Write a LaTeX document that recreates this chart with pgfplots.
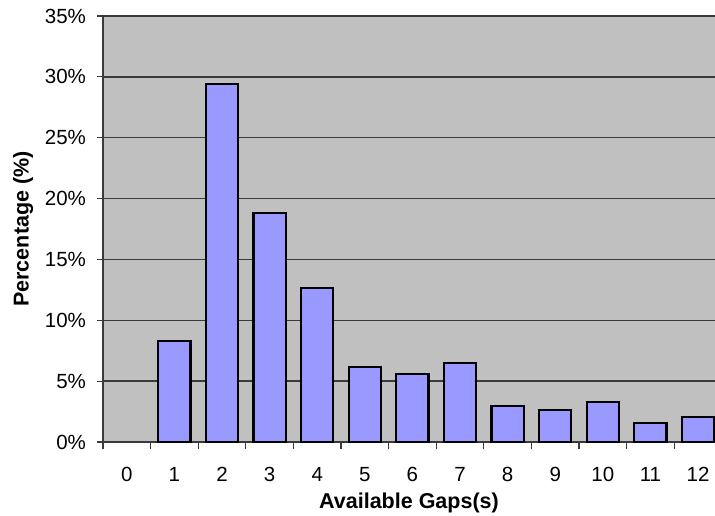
\documentclass[border=0pt]{standalone}
\usepackage{pgfplots}
\pgfplotsset{compat=1.18}
\usepackage{fontspec}
\setmainfont{Liberation Sans}
\definecolor{plotbg}{HTML}{C0C0C0}
\definecolor{barfill}{HTML}{9999FF}
\definecolor{gridc}{HTML}{3A3A3A}
\begin{document}
\fontsize{20.5bp}{24bp}\selectfont
\begin{tikzpicture}
\begin{axis}[
  scale only axis,
  width=612bp, height=426bp,
  xmin=-0.5, xmax=12.357,
  ymin=0, ymax=35,
  axis x line*=bottom,
  axis y line*=left,
  axis line style={draw=gridc, line width=1.2pt},
  axis background/.style={fill=plotbg},
  ybar, bar width=0.68,
  xtick={0,...,12},
  major x tick style={draw=none},
  minor xtick={-0.5,0.5,...,11.5},
  minor x tick style={draw=gridc, line width=1.2pt},
  minor tick length=7bp,
  tick align=outside,
  ytick={0,5,...,35},
  major y tick style={draw=gridc, line width=1.2pt},
  major tick length=6bp,
  ymajorgrids,
  major grid style={draw=gridc, line width=1.4pt},
  yticklabel={\pgfmathprintnumber{\tick}\%},
  /pgf/number format/assume math mode=true,
  tick label style={font=\fontsize{20.5bp}{24bp}\selectfont},
  xticklabel style={yshift=-12bp},
  yticklabel style={xshift=-4bp},
  xlabel={\textbf{Available Gaps(s)}},
  ylabel={\textbf{Percentage (\%)}},
  label style={font=\fontsize{21.5bp}{25bp}\selectfont},
  xlabel style={yshift=2bp},
  ylabel style={yshift=-2bp},
  clip=true,
]
\addplot[fill=barfill, draw=black, line width=2.2pt] coordinates {
(1,8.27) (2,29.44) (3,18.8) (4,12.66) (5,6.19) (6,5.59) (7,6.46)
(8,2.93) (9,2.63) (10,3.29) (11,1.56) (12,2.06)
};
\end{axis}
\pgfresetboundingbox
\path[use as bounding box] ([xshift=-103bp,yshift=-74bp]current axis.south west) rectangle ([yshift=16bp]current axis.north east);
\end{tikzpicture}
\end{document}
